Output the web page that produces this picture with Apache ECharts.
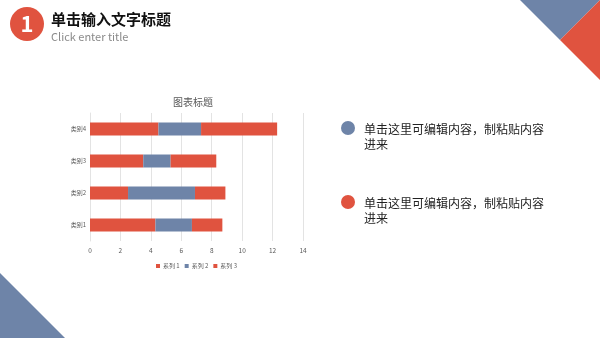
<!DOCTYPE html>
<html>
<head>
<meta charset="utf-8">
<script src="https://cdn.jsdelivr.net/npm/echarts@6/dist/echarts.min.js"></script>
<style>
html, body { margin: 0; padding: 0; background: #fff; }
#chart { width: 600px; height: 338px; }
</style>
</head>
<body>
<div id="chart"></div>
<script>
// 图表数据
var categories = ['类别1', '类别2', '类别3', '类别4'];
var seriesNames = ['系列 1', '系列 2', '系列 3'];
var series1 = [4.3, 2.5, 3.5, 4.5];
var series2 = [2.4, 4.4, 1.8, 2.8];
var series3 = [2, 2, 3, 5];
var xTicks = [0, 2, 4, 6, 8, 10, 12, 14];

var red = '#E0533F';
var blue = '#6E84A8';
var font = '"Noto Sans CJK SC", "Noto Sans", sans-serif';

var myChart = echarts.init(document.getElementById('chart'));

var option = {
	backgroundColor: '#fff',
	animation: false,
	textStyle: { fontFamily: font },
	title: {
		text: '图表标题',
		left: 168,
		top: 92,
		textStyle: { fontSize: 10, fontWeight: 'normal', color: '#595959', fontFamily: font }
	},
	legend: {
		data: seriesNames,
		left: 151,
		top: 258,
		itemWidth: 4,
		itemHeight: 4,
		itemGap: 5,
		icon: 'rect',
		textStyle: { fontSize: 6, color: '#595959', padding: [0, 0, 0, -2] }
	},
	grid: { left: 90, right: 297, top: 113, bottom: 97 },
	xAxis: {
		type: 'value',
		min: xTicks[0],
		max: xTicks[xTicks.length - 1],
		interval: 2,
		axisLine: { show: false },
		axisTick: { show: false },
		axisLabel: { fontSize: 6.5, color: '#595959', margin: 6 },
		splitLine: { lineStyle: { color: '#e3e3e3', width: 1 } }
	},
	yAxis: {
		type: 'category',
		data: categories,
		axisLine: { show: true, lineStyle: { color: '#e3e3e3' } },
		axisTick: { show: false },
		axisLabel: { fontSize: 6, color: '#595959', margin: 4 }
	},
	series: [
		{ name: seriesNames[0], type: 'bar', stack: 'a', barWidth: 13, data: series1, itemStyle: { color: red } },
		{ name: seriesNames[1], type: 'bar', stack: 'a', barWidth: 13, data: series2, itemStyle: { color: blue } },
		{ name: seriesNames[2], type: 'bar', stack: 'a', barWidth: 13, data: series3, itemStyle: { color: red } }
	],
	graphic: [
		// 右上角三角
		{ type: 'polygon', shape: { points: [[520, 0], [600, 0], [560, 40]] }, style: { fill: blue } },
		{ type: 'polygon', shape: { points: [[600, 0], [560, 40], [600, 80]] }, style: { fill: red } },
		// 左下角三角
		{ type: 'polygon', shape: { points: [[0, 273], [0, 338], [65, 338]] }, style: { fill: blue } },
		// 标题编号
		{ type: 'circle', shape: { cx: 27, cy: 24, r: 17 }, style: { fill: red } },
		{ type: 'text', x: 27, y: 24, style: { text: '1', fill: '#fff', fontSize: 22, fontWeight: 'bold', fontFamily: font, align: 'center', verticalAlign: 'middle' } },
		{ type: 'text', x: 51, y: 19, style: { text: '单击输入文字标题', fill: '#111', fontSize: 15, fontWeight: 'bold', fontFamily: font, verticalAlign: 'middle' } },
		{ type: 'text', x: 51, y: 37, style: { text: 'Click enter title', fill: '#8a8a8a', fontSize: 11, fontFamily: font, verticalAlign: 'middle' } },
		// 右侧说明
		{ type: 'circle', shape: { cx: 348, cy: 128, r: 7 }, style: { fill: blue } },
		{ type: 'text', x: 364, y: 122, style: { text: '单击这里可编辑内容，制粘贴内容\n进来', fill: '#222', fontSize: 12, lineHeight: 15, fontFamily: font } },
		{ type: 'circle', shape: { cx: 348, cy: 202, r: 7 }, style: { fill: red } },
		{ type: 'text', x: 364, y: 196, style: { text: '单击这里可编辑内容，制粘贴内容\n进来', fill: '#222', fontSize: 12, lineHeight: 15, fontFamily: font } }
	]
};

myChart.setOption(option);
</script>
</body>
</html>
